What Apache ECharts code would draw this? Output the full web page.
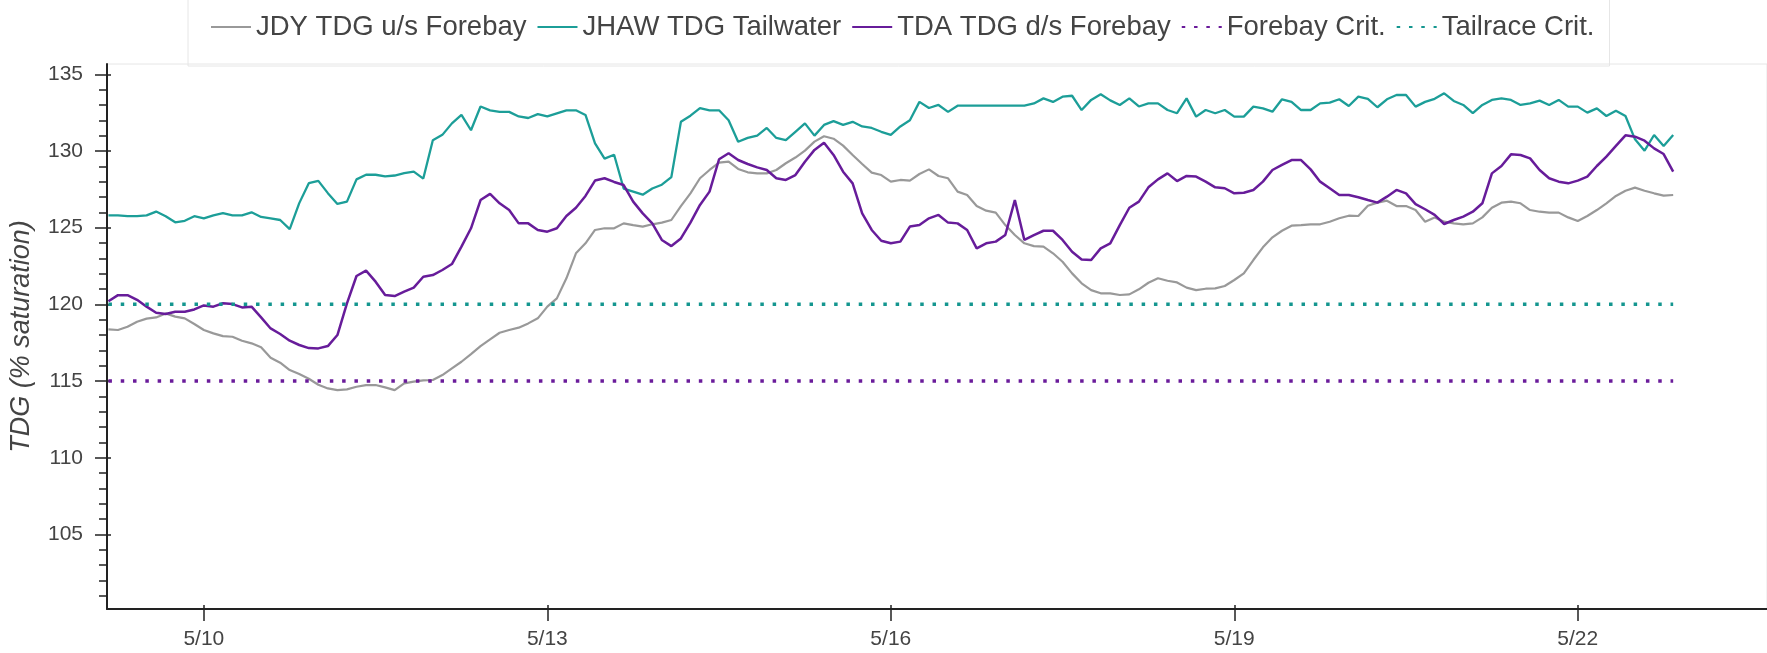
<!DOCTYPE html>
<html>
<head>
<meta charset="utf-8">
<script src="https://cdn.jsdelivr.net/npm/echarts@6/dist/echarts.min.js"></script>
<style>
  html, body { margin: 0; padding: 0; background: #fff; }
  #chart { width: 1767px; height: 653px; }
</style>
</head>
<body>
<div id="chart"></div>
<script>
// readings every 2 hours, starting 5/9 04:00
const startTime = new Date(2024, 4, 9, 4, 0).getTime();
const stepHours = 2;

const jdyForebay = [
  118.37, 118.33, 118.54, 118.87, 119.07, 119.15, 119.41, 119.2, 119.09, 118.72,
  118.33, 118.11, 117.93, 117.89, 117.63, 117.46, 117.2, 116.52, 116.2, 115.72,
  115.46, 115.15, 114.76, 114.52, 114.41, 114.46, 114.63, 114.74, 114.74, 114.59,
  114.41, 114.85, 114.96, 115.04, 115.07, 115.39, 115.83, 116.26, 116.76, 117.28,
  117.72, 118.15, 118.33, 118.48, 118.76, 119.09, 119.85, 120.39, 121.7, 123.33,
  123.98, 124.85, 124.96, 124.96, 125.28, 125.17, 125.07, 125.22, 125.33, 125.5,
  126.41, 127.24, 128.22, 128.76, 129.24, 129.3, 128.83, 128.61, 128.54, 128.54,
  128.76, 129.2, 129.57, 130.02, 130.61, 130.96, 130.8, 130.35, 129.74, 129.15,
  128.59, 128.43, 128.0, 128.11, 128.07, 128.5, 128.8, 128.37, 128.22, 127.35,
  127.13, 126.41, 126.11, 125.98, 125.17, 124.52, 123.98, 123.8, 123.76, 123.33,
  122.78, 122.02, 121.37, 120.93, 120.72, 120.72, 120.61, 120.65, 120.98, 121.41,
  121.7, 121.54, 121.43, 121.09, 120.93, 121.02, 121.04, 121.2, 121.59, 122.02,
  122.89, 123.72, 124.37, 124.8, 125.13, 125.17, 125.22, 125.22, 125.39, 125.61,
  125.78, 125.76, 126.43, 126.63, 126.76, 126.41, 126.41, 126.15, 125.39, 125.67,
  125.39, 125.28, 125.22, 125.28, 125.67, 126.3, 126.63, 126.7, 126.59, 126.15,
  126.04, 125.98, 125.98, 125.67, 125.43, 125.76, 126.15, 126.59, 127.07, 127.41,
  127.61, 127.41, 127.24, 127.09, 127.13
];

const jhawTailwater = [
  125.8, 125.8, 125.75, 125.75, 125.8, 126.05, 125.75, 125.35, 125.45, 125.75,
  125.6, 125.8, 125.95, 125.8, 125.8, 126.0, 125.7, 125.6, 125.5, 124.9,
  126.6, 127.9, 128.05, 127.25, 126.55, 126.7, 128.15, 128.45, 128.45, 128.35,
  128.4, 128.55, 128.65, 128.2, 130.7, 131.05, 131.8, 132.35, 131.35, 132.9,
  132.65, 132.55, 132.55, 132.25, 132.15, 132.4, 132.25, 132.45, 132.65, 132.65,
  132.35, 130.5, 129.5, 129.75, 127.55, 127.35, 127.15, 127.55, 127.8, 128.3,
  131.9, 132.3, 132.8, 132.65, 132.65, 132.0, 130.6, 130.85, 131.0, 131.5,
  130.85, 130.7, 131.25, 131.8, 131.0, 131.7, 131.95, 131.7, 131.9, 131.6,
  131.5, 131.25, 131.05, 131.6, 132.0, 133.2, 132.8, 133.0, 132.55, 132.95,
  132.95, 132.95, 132.95, 132.95, 132.95, 132.95, 132.95, 133.1, 133.43, 133.2,
  133.54, 133.6, 132.67, 133.33, 133.7, 133.3, 133.0, 133.43, 132.9, 133.1,
  133.1, 132.67, 132.46, 133.43, 132.24, 132.67, 132.46, 132.67, 132.24, 132.24,
  132.89, 132.78, 132.56, 133.37, 133.2, 132.67, 132.67, 133.1, 133.15, 133.37,
  132.93, 133.54, 133.4, 132.85, 133.37, 133.65, 133.65, 132.89, 133.2, 133.4,
  133.76, 133.26, 133.0, 132.46, 133.0, 133.33, 133.43, 133.33, 133.0, 133.1,
  133.28, 133.0, 133.33, 132.89, 132.89, 132.5, 132.78, 132.28, 132.63, 132.28,
  130.76, 130.02, 131.04, 130.33, 131.04
];

const tdaForebay = [
  120.2, 120.6, 120.6, 120.3, 119.85, 119.45, 119.37, 119.52, 119.52, 119.67,
  119.93, 119.85, 120.07, 120.02, 119.8, 119.85, 119.15, 118.43, 118.07, 117.63,
  117.35, 117.15, 117.13, 117.28, 118.0, 120.07, 121.85, 122.2, 121.48, 120.61,
  120.54, 120.83, 121.09, 121.8, 121.91, 122.24, 122.63, 123.76, 124.96, 126.8,
  127.2, 126.59, 126.15, 125.28, 125.28, 124.85, 124.74, 124.96, 125.76, 126.3,
  127.07, 128.07, 128.22, 127.98, 127.78, 126.7, 125.93, 125.28, 124.2, 123.8,
  124.3, 125.33, 126.48, 127.35, 129.46, 129.85, 129.41, 129.15, 128.93, 128.76,
  128.22, 128.11, 128.43, 129.3, 130.07, 130.54, 129.74, 128.65, 127.89, 125.93,
  124.85, 124.15, 123.98, 124.09, 125.07, 125.17, 125.61, 125.83, 125.33, 125.28,
  124.85, 123.65, 123.98, 124.09, 124.52, 126.8, 124.2, 124.52, 124.8, 124.8,
  124.2, 123.43, 122.93, 122.89, 123.65, 123.98, 125.17, 126.3, 126.7, 127.63,
  128.15, 128.54, 128.04, 128.37, 128.33, 128.0, 127.63, 127.57, 127.24, 127.28,
  127.46, 128.0, 128.76, 129.09, 129.41, 129.41, 128.8, 128.0, 127.57, 127.13,
  127.13, 126.98, 126.8, 126.63, 127.02, 127.46, 127.24, 126.54, 126.2, 125.83,
  125.24, 125.5, 125.72, 126.04, 126.59, 128.54, 129.02, 129.78, 129.74, 129.52,
  128.76, 128.22, 128.0, 127.89, 128.07, 128.33, 129.02, 129.63, 130.33, 131.02,
  130.93, 130.67, 130.17, 129.8, 128.65
];

const forebayCrit = 115;
const tailraceCrit = 120;

const tickDates = [[2024, 4, 10], [2024, 4, 13], [2024, 4, 16], [2024, 4, 19], [2024, 4, 22]];
const tickLabels = ['5/10', '5/13', '5/16', '5/19', '5/22'];
const yMajorTicks = [105, 110, 115, 120, 125, 130, 135];
const yMinorTicks = [101, 102, 103, 104, 106, 107, 108, 109, 111, 112, 113, 114,
  116, 117, 118, 119, 121, 122, 123, 124, 126, 127, 128, 129, 131, 132, 133, 134];

const xMin = new Date(2024, 4, 9, 3, 42).getTime();
const xMax = new Date(2024, 4, 23, 15, 40).getTime();
const yMin = 100.14;
const yMax = 135.67;

const HOUR = 3600 * 1000;
const toPairs = vals => vals.map((v, i) => [startTime + i * stepHours * HOUR, v]);
const lastTime = startTime + (jdyForebay.length - 1) * stepHours * HOUR;
const tickTimes = tickDates.map(d => new Date(d[0], d[1], d[2]).getTime());

const font = 'Liberation Sans, Arial, Helvetica, sans-serif';
const textColor = '#444';

const chart = echarts.init(document.getElementById('chart'));

function lineSeries(name, data, color, width) {
  return {
    name, type: 'line', data,
    showSymbol: false, symbol: 'none',
    lineStyle: { color, width },
    itemStyle: { color },
    animation: false
  };
}

function critSeries(name, value, color) {
  return {
    name, type: 'line',
    data: [[startTime, value], [lastTime, value]],
    showSymbol: false, symbol: 'none',
    lineStyle: { color, width: 3.5, type: [3.5, 8.8], cap: 'butt' },
    itemStyle: { color },
    animation: false
  };
}

const yBase = { type: 'value', min: yMin, max: yMax, position: 'left', splitLine: { show: false } };
const xBase = { type: 'value', min: xMin, max: xMax, position: 'bottom', splitLine: { show: false } };

function dateLabel(v) {
  let best = 0;
  tickTimes.forEach((t, i) => { if (Math.abs(t - v) < Math.abs(tickTimes[best] - v)) best = i; });
  return tickLabels[best];
}

chart.setOption({
  animation: false,
  textStyle: { fontFamily: font },
  legend: {
    left: 188, top: -7,
    padding: [20, 15, 25, 22],
    borderColor: '#e6e6e6', borderWidth: 1,
    itemWidth: 40, itemHeight: 14, itemGap: 10,
    itemStyle: { color: 'rgba(0,0,0,0)', borderColor: 'rgba(0,0,0,0)', borderWidth: 0 },
    textStyle: { fontSize: 27.5, color: textColor, fontFamily: font },
    data: ['JDY TDG u/s Forebay', 'JHAW TDG Tailwater', 'TDA TDG d/s Forebay', 'Forebay Crit.', 'Tailrace Crit.']
  },
  grid: {
    left: 107, top: 64, right: -1, bottom: 44,
    show: true, borderColor: '#e6e6e6', borderWidth: 1
  },
  xAxis: [
    Object.assign({}, xBase, {
      axisLine: { show: true, lineStyle: { color: '#222', width: 2 } },
      axisTick: { show: true, length: 12, lineStyle: { color: '#222', width: 1.5 }, customValues: tickTimes },
      axisLabel: {
        fontSize: 21, color: textColor, margin: 20, fontFamily: font,
        customValues: tickTimes, formatter: dateLabel
      }
    }),
    Object.assign({}, xBase, {
      axisLine: { show: false },
      axisTick: { show: true, inside: true, length: 4, lineStyle: { color: '#222', width: 1.5 }, customValues: tickTimes },
      axisLabel: { show: false }
    })
  ],
  yAxis: [
    Object.assign({}, yBase, {
      name: 'TDG (% saturation)',
      nameLocation: 'middle', nameRotate: 90, nameGap: 72,
      nameTextStyle: { fontSize: 27, fontStyle: 'italic', color: textColor, fontFamily: font },
      axisLine: { show: true, lineStyle: { color: '#222', width: 2 } },
      axisTick: { show: true, length: 12, lineStyle: { color: '#222', width: 1.5 }, customValues: yMajorTicks },
      axisLabel: { fontSize: 21, color: textColor, margin: 24, fontFamily: font, customValues: yMajorTicks }
    }),
    Object.assign({}, yBase, {
      axisLine: { show: false },
      axisTick: { show: true, length: 8, lineStyle: { color: '#222', width: 1.5 }, customValues: yMinorTicks },
      axisLabel: { show: false }
    }),
    Object.assign({}, yBase, {
      axisLine: { show: false },
      axisTick: { show: true, inside: true, length: 4, lineStyle: { color: '#222', width: 1.5 }, customValues: yMajorTicks },
      axisLabel: { show: false }
    })
  ],
  series: [
    lineSeries('JDY TDG u/s Forebay', toPairs(jdyForebay), '#999999', 2.2),
    lineSeries('JHAW TDG Tailwater', toPairs(jhawTailwater), '#1c9e98', 2.3),
    lineSeries('TDA TDG d/s Forebay', toPairs(tdaForebay), '#671c9a', 2.5),
    critSeries('Forebay Crit.', forebayCrit, '#6a1b9a'),
    critSeries('Tailrace Crit.', tailraceCrit, '#14968f')
  ]
});
</script>
</body>
</html>
